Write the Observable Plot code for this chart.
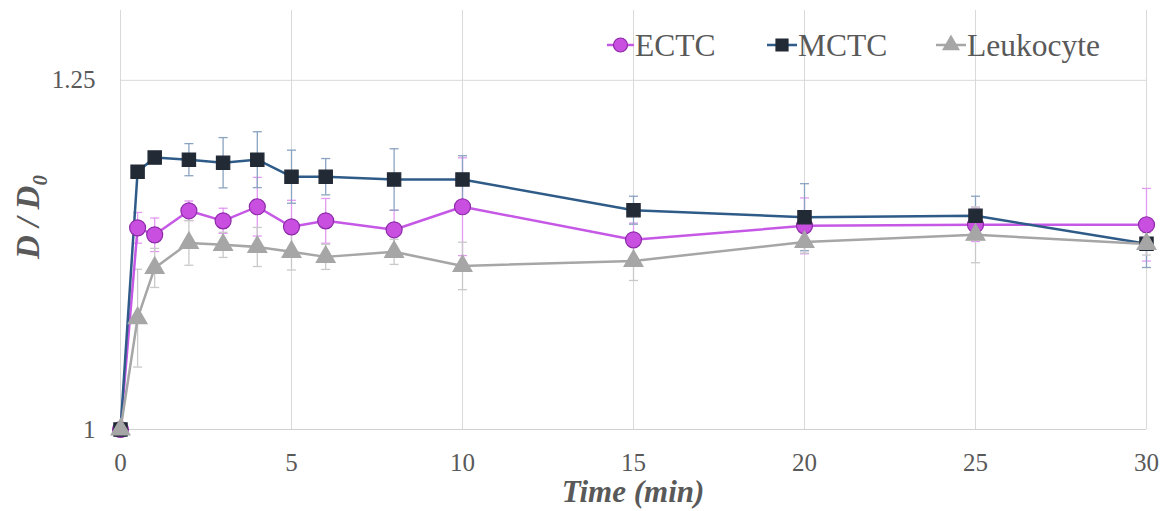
<!DOCTYPE html>
<html>
<head>
<meta charset="utf-8">
<script src="https://cdn.jsdelivr.net/npm/d3@7"></script>
<script src="https://cdn.jsdelivr.net/npm/@observablehq/plot@0.6"></script>
<style>
  html, body { margin: 0; padding: 0; background: #fff; }
  #chart { position: relative; width: 1168px; height: 511px; }
  #chart svg text { font-family: 'Liberation Serif', 'Times New Roman', serif !important; }
</style>
</head>
<body>
<div id="chart"></div>
<script>
const times = [0, 0.5, 1, 2, 3, 4, 5, 6, 8, 10, 15, 20, 25, 30];
const ectc = [1, 1.1444, 1.1394, 1.1566, 1.1494, 1.1595, 1.1451, 1.1494, 1.143, 1.1595, 1.1358, 1.1458, 1.1466, 1.1466];
const ectcErr = [0, 0.011, 0.012, 0.007, 0.009, 0.021, 0.019, 0.016, 0.014, 0.035, 0.012, 0.020, 0.012, 0.026];
const mctc = [1, 1.1846, 1.1947, 1.1932, 1.191, 1.1932, 1.181, 1.181, 1.179, 1.179, 1.157, 1.152, 1.153, 1.133];
const mctcErr = [0, 0, 0, 0.0115, 0.018, 0.020, 0.019, 0.013, 0.022, 0.017, 0.010, 0.024, 0.014, 0.017];
const leuk = [1, 1.0797, 1.1157, 1.1336, 1.1322, 1.1307, 1.1272, 1.1236, 1.1272, 1.1171, 1.1207, 1.1343, 1.1394, 1.1329];
const leukErr = [0, 0.035, 0.014, 0.016, 0.009, 0.014, 0.013, 0.009, 0.009, 0.017, 0.014, 0.008, 0.020, 0.008];
const seriesNames = ["ECTC", "MCTC", "Leukocyte"];
const xTicks = [0, 5, 10, 15, 20, 25, 30];
const yTicks = [1, 1.25];

const font = "'Liberation Serif', 'Times New Roman', serif";
const styles = {
  ECTC: {line: "#c658e6", err: "#e39af2", fill: "#c84fe0", stroke: "#8d2aa8", symbol: "circle", r: 8},
  MCTC: {line: "#2f5b88", err: "#8aa3c0", fill: "#222a36", stroke: "#222a36", symbol: "square", r: 7.5},
  Leukocyte: {line: "#a6a6a6", err: "#c9c9c9", fill: "#a6a6a6", stroke: "#a6a6a6", symbol: "triangle", r: 7}
};

const values = {ECTC: ectc, MCTC: mctc, Leukocyte: leuk};
const errs = {ECTC: ectcErr, MCTC: mctcErr, Leukocyte: leukErr};
const data = seriesNames.flatMap(s => times.map((t, i) => ({series: s, t, v: values[s][i], e: errs[s][i]})));

const capSymbol = {draw(ctx) { ctx.moveTo(-4.5, 0); ctx.lineTo(4.5, 0); }};

const marks = [
  Plot.gridX(xTicks.filter(d => d > 0), {stroke: "#d9d9d9", strokeOpacity: 1, strokeWidth: 1}),
  Plot.ruleX([0], {stroke: "#d9d9d9", strokeWidth: 1}),
  Plot.gridY([1.25], {stroke: "#d9d9d9", strokeOpacity: 1, strokeWidth: 1}),
  Plot.ruleY([1], {stroke: "#d0d0d0", strokeWidth: 1.2}),
  Plot.axisX(xTicks, {tickSize: 0, tickPadding: 24, fontSize: 25, fontFamily: font, fill: "#595959", tickFormat: d => String(d), label: null}),
  Plot.axisY(yTicks, {tickSize: 0, tickPadding: 25, fontSize: 25, fontFamily: font, fill: "#595959", tickFormat: d => String(d), label: null}),
];
for (const s of seriesNames) {
  const st = styles[s];
  const d = data.filter(r => r.series === s && r.e > 0);
  marks.push(Plot.ruleX(d, {x: "t", y1: r => r.v - r.e, y2: r => r.v + r.e, stroke: st.err, strokeWidth: 1.3}));
  marks.push(Plot.dot(d, {x: "t", y: r => r.v + r.e, symbol: capSymbol, stroke: st.err, fill: "none", strokeWidth: 1.3}));
  marks.push(Plot.dot(d, {x: "t", y: r => r.v - r.e, symbol: capSymbol, stroke: st.err, fill: "none", strokeWidth: 1.3}));
}
for (const s of seriesNames) {
  const st = styles[s];
  const d = data.filter(r => r.series === s);
  marks.push(Plot.line(d, {x: "t", y: "v", stroke: st.line, strokeWidth: 2.5}));
}
for (const s of seriesNames) {
  const st = styles[s];
  const d = data.filter(r => r.series === s);
  marks.push(Plot.dot(d, {x: "t", y: "v", symbol: st.symbol, r: st.r, fill: st.fill, stroke: st.stroke, strokeWidth: 1.2}));
}

const plot = Plot.plot({
  width: 1168,
  height: 511,
  marginLeft: 120,
  marginRight: 22,
  marginTop: 10,
  marginBottom: 82,
  style: {fontFamily: font, background: "#fff"},
  x: {domain: [0, 30], axis: null},
  y: {domain: [1, 1.3], axis: null},
  marks
});
document.getElementById("chart").appendChild(plot);

const svg = d3.select(plot);
// Axis titles
svg.append("text")
  .attr("x", 633).attr("y", 502)
  .attr("text-anchor", "middle")
  .attr("font-family", font).attr("font-size", 31)
  .attr("font-weight", "bold").attr("font-style", "italic")
  .attr("fill", "#595959")
  .text("Time (min)");
const yl = svg.append("text")
  .attr("transform", "translate(39,217) rotate(-90)")
  .attr("text-anchor", "middle")
  .attr("font-family", font).attr("font-size", 33)
  .attr("font-weight", "bold").attr("font-style", "italic")
  .attr("fill", "#595959");
yl.append("tspan").text("D / D");
yl.append("tspan").attr("font-size", 21).attr("dy", 8).text("0");

// Legend
const legend = svg.append("g").attr("font-family", font).attr("font-size", 31.5).attr("fill", "#595959").attr("text-anchor", "start");
const legendItems = [
  {name: "ECTC", x0: 607, x1: 634},
  {name: "MCTC", x0: 767, x1: 797},
  {name: "Leukocyte", x0: 936, x1: 966}
];
const ly = 45;
for (const it of legendItems) {
  const st = styles[it.name];
  legend.append("line").attr("x1", it.x0).attr("x2", it.x1).attr("y1", ly).attr("y2", ly)
    .attr("stroke", st.line).attr("stroke-width", 2.5);
  const sym = d3.symbol().type(st.symbol === "circle" ? d3.symbolCircle : st.symbol === "square" ? d3.symbolSquare : d3.symbolTriangle)
    .size(st.symbol === "circle" ? Math.PI * 7 * 7 : st.symbol === "square" ? 12 * 12 : 110);
  legend.append("path").attr("d", sym()).attr("transform", `translate(${(it.x0 + it.x1) / 2},${ly})`)
    .attr("fill", st.fill).attr("stroke", st.stroke).attr("stroke-width", 1.2);
  legend.append("text").attr("x", it.x1 + 1).attr("y", ly).attr("dy", "0.35em").text(it.name);
}
</script>
</body>
</html>
